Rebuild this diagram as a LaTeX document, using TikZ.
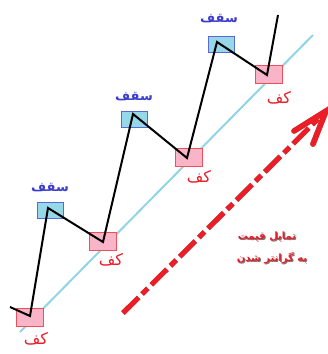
\documentclass[tikz,border=0pt]{standalone}
\usepackage{fontspec}
\newfontfamily\arabicfont[Script=Arabic]{DejaVu Sans}
\TeXXeTstate=1
\definecolor{pinkfill}{RGB}{250,180,200}
\definecolor{pinkdraw}{RGB}{235,80,95}
\definecolor{bluefill}{RGB}{150,215,232}
\definecolor{bluedraw}{RGB}{85,105,215}
\definecolor{trend}{RGB}{145,212,228}
\definecolor{redtxt}{RGB}{235,30,40}
\definecolor{bluetxt}{RGB}{60,60,205}
\definecolor{shadowgray}{RGB}{120,120,120}
\tikzset{
  lowbox/.style={draw=pinkdraw, fill=pinkfill, line width=0.8pt, minimum width=27pt, minimum height=18pt, inner sep=0pt},
  highbox/.style={draw=bluedraw, fill=bluefill, line width=0.8pt, minimum width=26pt, minimum height=16pt, inner sep=0pt},
  lowlbl/.style={text=redtxt, font=\arabicfont\fontsize{16}{16}\selectfont, inner sep=0pt},
  highlbl/.style={text=bluetxt, font=\arabicfont\bfseries\fontsize{13}{13}\selectfont, inner sep=0pt},
  zig/.style={line width=2pt, black, line join=miter},
  trendline/.style={trend, line width=2pt},
  arrowpart/.style={line width=5pt, dash pattern=on 22pt off 5pt on 8pt off 5pt},
  headpart/.style={line width=5.5pt, line cap=round},
  caption/.style={font=\arabicfont\bfseries\fontsize{10}{10}\selectfont, inner sep=0pt}
}
\begin{document}
\begin{tikzpicture}[x=1pt,y=-1pt]
\useasboundingbox (0,0) rectangle (328,354);
% trend line
\coordinate (t0) at (20,332);
\coordinate (t1) at (313,35);
\draw[trendline] (t0) -- (t1);
% boxes
\node[lowbox] (L1) at (29.5,317) {};
\node[lowbox] (L2) at (103,241) {};
\node[lowbox] (L3) at (188.5,157) {};
\node[lowbox] (L4) at (268.5,74) {};
\node[highbox] (H1) at (50,210) {};
\node[highbox] (H2) at (134.5,119.5) {};
\node[highbox] (H3) at (221.5,44) {};
% zigzag vertices
\coordinate (s) at (10,307);
\coordinate (v1) at (30,316);
\coordinate (p1) at (48,208);
\coordinate (v2) at (103,242);
\coordinate (p2) at (133,114);
\coordinate (v3) at (187,158);
\coordinate (p3) at (217,42);
\coordinate (v4) at (267,75);
\coordinate (e) at (278,15);
\draw[zig] (s) -- (v1) -- (p1) -- (v2) -- (p2) -- (v3) -- (p3) -- (v4) -- (e);
% labels
\node[highlbl] (h1t) at (50,188) {\beginR سقف\endR};
\node[highlbl] (h2t) at (134,97) {\beginR سقف\endR};
\node[highlbl] (h3t) at (219,19) {\beginR سقف\endR};
\node[lowlbl] (l1t) at (36,339) {\beginR کف\endR};
\node[lowlbl] (l2t) at (111,260) {\beginR کف\endR};
\node[lowlbl] (l3t) at (199,177) {\beginR کف\endR};
\node[lowlbl] (l4t) at (279,98) {\beginR کف\endR};
% trend arrow with shadow
\coordinate (a0) at (123,313);
\coordinate (a1) at (324,113);
\coordinate (tip) at (326,111);
\coordinate (w1) at (294,131);
\coordinate (w2) at (313,144);
\begin{scope}[shift={(3,3)}, shadowgray]
  \draw[arrowpart] (a0) -- (a1);
  \draw[headpart] (w1) -- (tip) -- (w2);
\end{scope}
\draw[arrowpart, redtxt] (a0) -- (a1);
\draw[headpart, redtxt] (w1) -- (tip) -- (w2);
% caption with shadow
\node[caption, text=shadowgray] (c1s) at (268,238) {\beginR تمایل قیمت\endR};
\node[caption, text=shadowgray] (c2s) at (273,259) {\beginR به گرانتر شدن\endR};
\node[caption, text=redtxt] (c1) at (267,237) {\beginR تمایل قیمت\endR};
\node[caption, text=redtxt] (c2) at (272,258) {\beginR به گرانتر شدن\endR};
\end{tikzpicture}
\end{document}
